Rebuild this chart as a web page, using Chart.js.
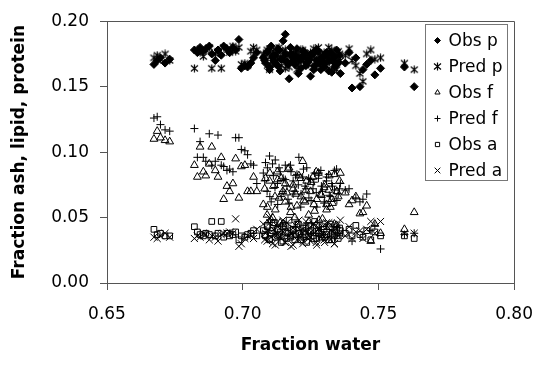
<!DOCTYPE html>
<html>
<head>
<meta charset="utf-8">
<script src="https://cdn.jsdelivr.net/npm/chart.js@4/dist/chart.umd.min.js"></script>
<style>
  html, body { margin: 0; padding: 0; background: #fff; }
  #wrap { width: 547px; height: 366px; }
</style>
</head>
<body>
<div id="wrap"><canvas id="chart" width="547" height="366"></canvas></div>
<script>
// water fraction of each sample (shared by observed and predicted series)
const water = [
  0.6673,0.6685,0.6697,0.6714,0.6731,
  0.6822,0.6833,0.6843,0.6855,0.6864,0.6877,0.6886,0.6899,0.6909,0.6921,0.6930,
  0.6942,0.6952,0.6964,0.6974,0.6986,0.6995,0.7008,0.7018,0.7030,0.7040,0.7052,
  0.7076,0.7084,0.7090,0.7099,0.7105,0.7113,0.7120,0.7128,0.7134,0.7142,
  0.7149,0.7157,0.7163,0.7171,0.7178,0.7186,0.7192,0.7200,0.7207,0.7215,
  0.7221,0.7230,0.7236,0.7244,0.7250,0.7259,0.7265,0.7273,0.7279,0.7288,
  0.7294,0.7302,0.7309,0.7317,0.7323,0.7331,0.7338,0.7346,0.7352,0.7360,
  0.7378,0.7392,0.7403,0.7417,0.7432,0.7443,0.7457,0.7472,0.7487,0.7508,
  0.7596,0.7632,
  0.7081,0.7091,0.7100,0.7110,0.7119,0.7129,0.7138,0.7148,0.7157,0.7167,
  0.7176,0.7186,0.7195,0.7205,0.7214,0.7224,0.7233,0.7243,0.7252,0.7262,
  0.7271,0.7281,0.7290,0.7300,0.7309,0.7319,0.7328,0.7338,0.7347,0.7357
];
const obsP = [
  0.167,0.170,0.172,0.168,0.171,
  0.178,0.176,0.180,0.177,0.179,0.181,0.175,0.170,0.178,0.174,0.181,
  0.179,0.176,0.180,0.178,0.186,0.164,0.166,0.165,0.168,0.172,0.176,
  0.172,0.168,0.176,0.163,0.181,0.170,0.174,0.166,0.178,0.171,
  0.185,0.190,0.169,0.156,0.175,0.172,0.167,0.179,0.170,0.164,
  0.173,0.176,0.168,0.171,0.158,0.175,0.166,0.170,0.177,0.163,
  0.172,0.168,0.174,0.162,0.176,0.170,0.165,0.178,0.168,0.160,
  0.168,0.176,0.149,0.172,0.150,0.163,0.167,0.170,0.159,0.164,
  0.165,0.150,
  0.170,0.177,0.165,0.173,0.168,0.179,0.162,0.171,0.175,0.167,
  0.180,0.169,0.174,0.160,0.172,0.177,0.166,0.170,0.175,0.163,
  0.178,0.168,0.172,0.165,0.176,0.170,0.161,0.173,0.167,0.174
];
const predP = [
  0.172,0.174,0.171,0.175,0.170,
  0.164,0.178,0.176,0.173,0.178,0.180,0.164,0.175,0.177,0.164,0.180,
  0.178,0.176,0.181,0.177,0.180,0.167,0.168,0.166,0.177,0.180,0.178,
  0.175,0.170,0.178,0.163,0.173,0.177,0.168,0.172,0.180,0.166,
  0.171,0.178,0.174,0.165,0.169,0.176,0.172,0.163,0.175,0.170,
  0.178,0.167,0.173,0.170,0.176,0.165,0.172,0.169,0.180,0.168,
  0.174,0.171,0.166,0.180,0.175,0.169,0.172,0.163,0.177,0.170,
  0.174,0.179,0.170,0.166,0.160,0.154,0.175,0.178,0.171,0.172,
  0.168,0.163,
  0.173,0.166,0.179,0.170,0.175,0.168,0.172,0.177,0.164,0.174,
  0.169,0.176,0.171,0.166,0.178,0.170,0.173,0.167,0.172,0.179,
  0.165,0.174,0.169,0.176,0.168,0.173,0.178,0.166,0.171,0.175
];
const obsF = [
  0.110,0.116,0.111,0.109,0.108,
  0.090,0.081,0.104,0.085,0.082,0.091,0.104,0.086,0.081,0.096,0.064,
  0.074,0.070,0.076,0.095,0.065,0.089,0.090,0.070,0.070,0.081,0.070,
  0.060,0.080,0.052,0.078,0.048,0.074,0.056,0.085,0.065,0.080,
  0.045,0.076,0.069,0.088,0.058,0.072,0.050,0.059,0.082,0.066,
  0.093,0.062,0.078,0.047,0.070,0.081,0.055,0.064,0.084,0.068,
  0.049,0.075,0.060,0.071,0.058,0.061,0.083,0.044,0.066,0.084,
  0.069,0.060,0.063,0.066,0.053,0.054,0.059,0.032,0.045,0.038,
  0.041,0.054,
  0.072,0.058,0.084,0.050,0.066,0.079,0.046,0.070,0.062,0.087,
  0.054,0.075,0.068,0.042,0.080,0.063,0.071,0.052,0.077,0.060,
  0.085,0.048,0.067,0.073,0.056,0.082,0.064,0.045,0.070,0.078
];
const predF = [
  0.126,0.127,0.121,0.117,0.116,
  0.118,0.096,0.108,0.096,0.093,0.114,0.090,0.093,0.113,0.090,0.089,
  0.086,0.087,0.085,0.111,0.111,0.102,0.101,0.098,0.091,0.090,0.076,
  0.084,0.092,0.070,0.097,0.062,0.082,0.094,0.076,0.088,0.066,
  0.080,0.090,0.074,0.061,0.085,0.078,0.070,0.083,0.096,0.068,
  0.081,0.074,0.088,0.065,0.079,0.072,0.084,0.058,0.080,0.086,
  0.070,0.062,0.078,0.083,0.066,0.074,0.071,0.087,0.068,0.076,
  0.071,0.072,0.032,0.065,0.062,0.064,0.068,0.040,0.044,0.026,
  0.037,0.038,
  0.078,0.088,0.066,0.091,0.073,0.060,0.085,0.070,0.079,0.064,
  0.090,0.068,0.082,0.075,0.058,0.087,0.072,0.080,0.063,0.077,
  0.069,0.084,0.074,0.061,0.081,0.067,0.076,0.086,0.063,0.072
];
const obsA = [
  0.041,0.037,0.038,0.036,0.036,
  0.043,0.039,0.037,0.036,0.038,0.037,0.047,0.036,0.038,0.047,0.035,
  0.038,0.036,0.037,0.039,0.033,0.036,0.035,0.037,0.038,0.040,0.036,
  0.040,0.036,0.044,0.033,0.038,0.046,0.035,0.041,0.037,0.031,
  0.043,0.039,0.034,0.048,0.036,0.040,0.033,0.045,0.038,0.035,
  0.042,0.037,0.031,0.044,0.039,0.036,0.047,0.034,0.040,0.037,
  0.043,0.035,0.039,0.033,0.045,0.038,0.036,0.041,0.034,0.040,
  0.038,0.041,0.036,0.044,0.037,0.035,0.040,0.033,0.039,0.036,
  0.036,0.034,
  0.037,0.043,0.034,0.040,0.046,0.036,0.039,0.032,0.044,0.038,
  0.035,0.041,0.037,0.045,0.033,0.039,0.042,0.036,0.040,0.034,
  0.044,0.038,0.035,0.041,0.037,0.043,0.033,0.039,0.036,0.042
];
const predA = [
  0.035,0.034,0.036,0.038,0.035,
  0.034,0.036,0.035,0.038,0.037,0.033,0.036,0.035,0.032,0.037,0.038,
  0.038,0.039,0.038,0.049,0.028,0.030,0.034,0.036,0.037,0.034,0.041,
  0.045,0.038,0.032,0.050,0.035,0.041,0.029,0.037,0.044,0.034,
  0.039,0.031,0.046,0.036,0.028,0.042,0.038,0.033,0.048,0.035,
  0.030,0.040,0.044,0.036,0.032,0.045,0.038,0.029,0.041,0.035,
  0.043,0.031,0.037,0.046,0.033,0.039,0.030,0.042,0.036,0.048,
  0.036,0.043,0.034,0.039,0.040,0.034,0.041,0.047,0.038,0.047,
  0.038,0.038,
  0.033,0.040,0.046,0.030,0.037,0.043,0.035,0.048,0.031,0.041,
  0.038,0.029,0.044,0.036,0.040,0.032,0.047,0.034,0.039,0.045,
  0.031,0.042,0.037,0.033,0.046,0.035,0.040,0.030,0.044,0.038
];
const seriesNames = ['Obs p', 'Pred p', 'Obs f', 'Pred f', 'Obs a', 'Pred a'];
const xTicks = [0.65, 0.70, 0.75, 0.80];
const yTicks = [0.00, 0.05, 0.10, 0.15, 0.20];

// excel-like asterisk: an x with a vertical bar
function asterisk(){
  const c = document.createElement('canvas');
  c.width = 9; c.height = 9;
  const g = c.getContext('2d');
  g.strokeStyle = '#000';
  g.lineWidth = 1.2;
  g.beginPath();
  g.moveTo(1, 1.5); g.lineTo(8, 7.5);
  g.moveTo(8, 1.5); g.lineTo(1, 7.5);
  g.moveTo(4.5, 0.5); g.lineTo(4.5, 8.5);
  g.stroke();
  return c;
}

function pts(ys){
  return water.map((x, i) => ({ x: x, y: ys[i] }));
}

function series(i, ys, style, radius, filled){
  return {
    label: seriesNames[i],
    data: pts(ys),
    pointStyle: style,
    pointRadius: radius,
    pointHoverRadius: radius,
    pointBorderWidth: 1,
    borderColor: '#000',
    backgroundColor: filled ? '#000' : 'rgba(0,0,0,0)',
    showLine: false
  };
}

const star = asterisk();
const datasets = [
  series(0, obsP, 'rectRot', 4, true),
  series(1, predP, star, 4, false),
  series(2, obsF, 'triangle', 4.5, false),
  series(3, predF, 'cross', 4, false),
  series(4, obsA, 'rect', 4, false),
  series(5, predA, 'crossRot', 5, false)
];

const tickFont = { family: 'DejaVu Sans', size: 17 };
const titleFont = { family: 'DejaVu Sans', size: 17, weight: 'bold' };

const frameAndLegend = {
  id: 'frameAndLegend',
  afterDraw(chart){
    const { ctx, chartArea: a } = chart;
    ctx.save();
    ctx.strokeStyle = '#555';
    ctx.lineWidth = 1;
    ctx.beginPath();
    ctx.moveTo(Math.round(a.left) + 0.5, Math.round(a.top) + 0.5);
    ctx.lineTo(Math.round(a.right) + 0.5, Math.round(a.top) + 0.5);
    ctx.lineTo(Math.round(a.right) + 0.5, Math.round(a.bottom) + 0.5);
    ctx.stroke();

    // legend box in the upper right of the plot
    const bx = Math.round(a.right) - 88.5, by = Math.round(a.top) + 3.5;
    ctx.fillStyle = '#fff';
    ctx.fillRect(bx, by, 82, 156);
    ctx.strokeStyle = '#777';
    ctx.strokeRect(bx, by, 82, 156);
    ctx.font = '17px "DejaVu Sans"';
    ctx.textBaseline = 'middle';
    chart.data.datasets.forEach((ds, i) => {
      const y = by + 16 + i * 26;
      ctx.fillStyle = ds.backgroundColor;
      ctx.strokeStyle = '#000';
      ctx.lineWidth = 1;
      Chart.helpers.drawPoint(ctx, {
        pointStyle: ds.pointStyle,
        radius: ds.pointStyle === 'crossRot' ? 4 : 3,
        rotation: 0,
        borderWidth: 1
      }, bx + 12, y);
      ctx.fillStyle = '#000';
      ctx.fillText(ds.label, bx + 23, y + 1);
    });
    ctx.restore();
  }
};

new Chart(document.getElementById('chart').getContext('2d'), {
  type: 'scatter',
  data: { datasets: datasets },
  options: {
    responsive: false,
    animation: false,
    layout: { padding: { left: 0, right: 27, top: 13, bottom: 0 } },
    plugins: { legend: { display: false }, tooltip: { enabled: false } },
    scales: {
      x: {
        type: 'linear',
        min: xTicks[0],
        max: xTicks[xTicks.length - 1],
        afterBuildTicks: s => { s.ticks = xTicks.map(v => ({ value: v })); },
        afterFit: s => { s.height = 83; },
        ticks: { callback: v => v.toFixed(2), font: tickFont, color: '#000', padding: 14, autoSkip: false, maxRotation: 0 },
        grid: { drawOnChartArea: false, drawTicks: true, tickLength: 7, color: '#555' },
        border: { color: '#555' },
        title: { display: true, text: 'Fraction water', font: titleFont, color: '#000', padding: { top: 0, bottom: 10 } }
      },
      y: {
        type: 'linear',
        min: yTicks[0],
        max: yTicks[yTicks.length - 1],
        afterBuildTicks: s => { s.ticks = yTicks.map(v => ({ value: v })); },
        afterFit: s => { s.width = 107; },
        ticks: { callback: v => v.toFixed(2), font: tickFont, color: '#000', padding: 11, autoSkip: false },
        grid: { drawOnChartArea: false, drawTicks: true, tickLength: 7, color: '#555' },
        border: { color: '#555' },
        title: { display: true, text: 'Fraction ash, lipid, protein', font: titleFont, color: '#000', padding: { top: 9, bottom: 0 } }
      }
    }
  },
  plugins: [frameAndLegend]
});
</script>
</body>
</html>
